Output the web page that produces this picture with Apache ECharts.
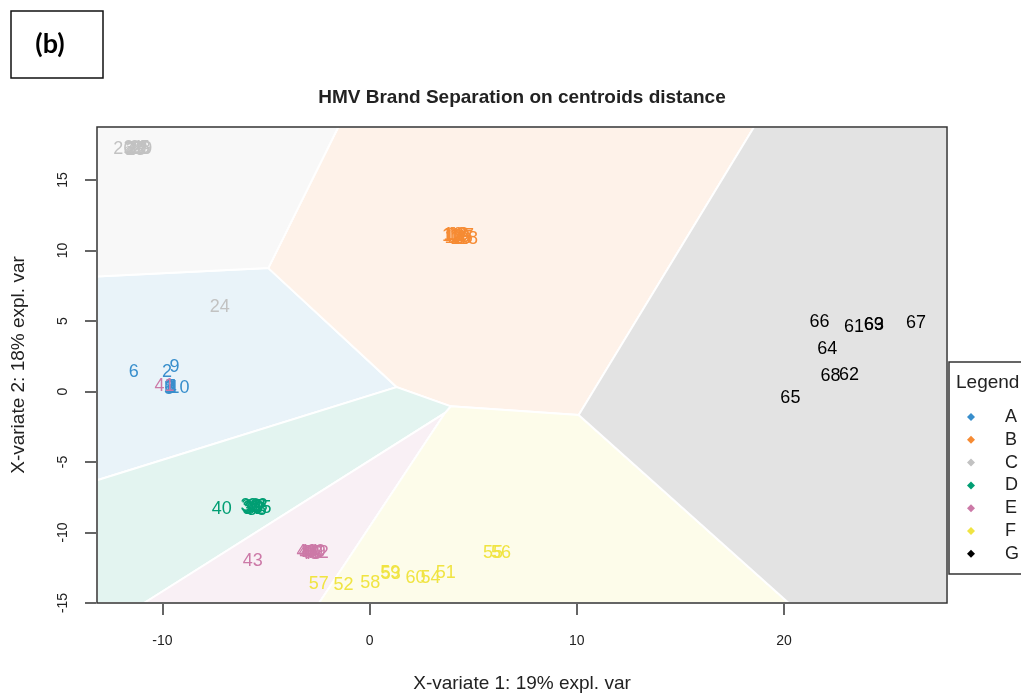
<!DOCTYPE html>
<html>
<head>
<meta charset="utf-8">
<script src="https://cdn.jsdelivr.net/npm/echarts@6/dist/echarts.min.js"></script>
<style>
  html, body { margin: 0; padding: 0; background: #ffffff; }
  #chart { width: 1021px; height: 694px; }
</style>
</head>
<body>
<div id="chart"></div>
<script>
// Group names and colours (mixOmics palette)
const groups = ['A', 'B', 'C', 'D', 'E', 'F', 'G'];
const groupColors = ['#388ECC', '#F68B33', '#C2C2C2', '#009E73', '#CC79A7', '#F0E442', '#000000'];

// Sample scores on the two X-variates: [x-variate 1, x-variate 2, sample number]
const groupA = [[-9.70, 0.30, 1], [-9.78, 1.38, 2], [-9.62, 0.22, 3], [-9.55, 0.28, 4], [-9.68, 0.20, 5],
                [-11.38, 1.38, 6], [-9.60, 0.32, 7], [-9.66, 0.25, 8], [-9.42, 1.74, 9], [-9.18, 0.25, 10]];
const groupB = [[3.95, 11.05, 11], [4.20, 11.10, 12], [4.35, 10.95, 13], [4.10, 10.90, 14], [4.50, 10.85, 15],
                [4.30, 11.08, 16], [4.55, 11.00, 17], [4.75, 10.78, 18], [4.05, 11.10, 19], [4.40, 10.80, 20]];
const groupC = [[-11.40, 17.25, 21], [-11.20, 17.20, 22], [-11.30, 17.15, 23], [-7.24, 5.99, 24], [-11.10, 17.25, 25],
                [-11.89, 17.20, 26], [-11.35, 17.20, 27], [-11.05, 17.18, 28], [-10.97, 17.22, 29], [-11.25, 17.22, 30]];
const groupD = [[-5.70, -8.20, 31], [-5.55, -8.30, 32], [-5.40, -8.15, 33], [-5.65, -8.35, 34], [-5.22, -8.25, 35],
                [-5.75, -8.10, 36], [-5.50, -8.20, 37], [-5.45, -8.40, 38], [-5.60, -8.28, 39], [-7.14, -8.33, 40]];
const groupE = [[-9.90, 0.39, 41], [-2.45, -11.45, 42], [-5.64, -12.00, 43], [-2.95, -11.40, 44], [-2.80, -11.50, 45],
                [-3.05, -11.42, 46], [-2.70, -11.48, 47], [-2.90, -11.55, 48], [-2.60, -11.40, 49], [-2.75, -11.45, 50]];
const groupF = [[3.67, -12.85, 51], [-1.26, -13.72, 52], [1.02, -12.92, 53], [2.94, -13.20, 54], [5.95, -11.48, 55],
                [6.34, -11.48, 56], [-2.46, -13.67, 57], [0.03, -13.60, 58], [1.00, -12.89, 59], [2.22, -13.25, 60]];
const groupG = [[23.38, 4.55, 61], [23.14, 1.17, 62], [24.35, 4.72, 63], [22.09, 2.99, 64], [20.31, -0.48, 65],
                [21.72, 4.95, 66], [26.37, 4.88, 67], [22.25, 1.10, 68], [24.33, 4.70, 69]];
const groupData = [groupA, groupB, groupC, groupD, groupE, groupF, groupG];

// Axis ranges and tick labels
const xRange = [-13.16, 27.87];
const yRange = [-15.0, 18.76];
const xTicks = [-10, 0, 10, 20];
const yTicks = [-15, -10, -5, 0, 5, 10, 15];

const FONT = 'Liberation Sans, Arial, sans-serif';

// Group centroids
const centroids = groupData.map(pts => {
  const n = pts.length;
  return [pts.reduce((s, p) => s + p[0], 0) / n, pts.reduce((s, p) => s + p[1], 0) / n];
});

// Nearest-centroid regions: clip the plotting rectangle by the bisector half-planes
function clipHalfPlane(poly, a, b, c) { // keep a*x + b*y <= c
  const out = [];
  for (let k = 0; k < poly.length; k++) {
    const p = poly[k], q = poly[(k + 1) % poly.length];
    const fp = a * p[0] + b * p[1] - c, fq = a * q[0] + b * q[1] - c;
    if (fp <= 0) out.push(p);
    if ((fp < 0 && fq > 0) || (fp > 0 && fq < 0)) {
      const t = fp / (fp - fq);
      out.push([p[0] + t * (q[0] - p[0]), p[1] + t * (q[1] - p[1])]);
    }
  }
  return out;
}
const regions = centroids.map((ci, i) => {
  let poly = [[xRange[0], yRange[0]], [xRange[1], yRange[0]], [xRange[1], yRange[1]], [xRange[0], yRange[1]]];
  centroids.forEach((cj, j) => {
    if (i === j) return;
    const a = 2 * (cj[0] - ci[0]), b = 2 * (cj[1] - ci[1]);
    const c = cj[0] * cj[0] + cj[1] * cj[1] - ci[0] * ci[0] - ci[1] * ci[1];
    poly = clipHalfPlane(poly, a, b, c);
  });
  return poly;
});

function tint(hex, alpha) {
  const r = parseInt(hex.slice(1, 3), 16), g = parseInt(hex.slice(3, 5), 16), b = parseInt(hex.slice(5, 7), 16);
  const mix = v => Math.round(255 - alpha * (255 - v));
  return 'rgb(' + mix(r) + ',' + mix(g) + ',' + mix(b) + ')';
}

const GRID = { left: 97, top: 127, width: 850, height: 476 };

const chart = echarts.init(document.getElementById('chart'), null, { renderer: 'canvas' });

const series = [{
  type: 'custom',
  name: 'background',
  z: 1,
  silent: true,
  data: centroids.map((c, i) => [c[0], c[1], i]),
  renderItem: function (params, api) {
    const i = params.dataIndex;
    const pts = regions[i].map(p => api.coord(p));
    return {
      type: 'polygon',
      shape: { points: pts },
      style: { fill: tint(groupColors[i], 0.11), stroke: '#ffffff', lineWidth: 2 }
    };
  }
}];

groups.forEach((g, i) => {
  series.push({
    type: 'scatter',
    name: g,
    z: 5,
    symbol: 'diamond',
    symbolSize: 0.01,
    itemStyle: { color: groupColors[i], opacity: 1 },
    emphasis: { disabled: true },
    label: {
      show: true,
      position: 'inside',
      formatter: p => String(p.value[2]),
      color: groupColors[i],
      opacity: 1,
      fontFamily: FONT,
      fontSize: 18
    },
    data: groupData[i]
  });
});

const axisLineStyle = { color: '#333', width: 1.5 };

chart.setOption({
  animation: false,
  backgroundColor: '#ffffff',
  grid: Object.assign({ outerBoundsMode: 'none', containLabel: false }, GRID),
  xAxis: {
    type: 'value',
    min: xRange[0],
    max: xRange[1],
    name: 'X-variate 1: 19% expl. var',
    nameLocation: 'middle',
    nameGap: 71,
    nameTextStyle: { fontFamily: FONT, fontSize: 19, color: '#222' },
    axisLine: { show: true, onZero: false, lineStyle: axisLineStyle },
    splitLine: { show: false },
    axisTick: { show: true, inside: false, length: 12, customValues: xTicks, lineStyle: axisLineStyle },
    axisLabel: { customValues: xTicks, margin: 31, fontFamily: FONT, fontSize: 14, color: '#222' }
  },
  yAxis: {
    type: 'value',
    min: yRange[0],
    max: yRange[1],
    name: 'X-variate 2: 18% expl. var',
    nameLocation: 'middle',
    nameGap: 69,
    nameRotate: 90,
    nameTextStyle: { fontFamily: FONT, fontSize: 19, color: '#222' },
    axisLine: { show: true, onZero: false, lineStyle: axisLineStyle },
    splitLine: { show: false },
    axisTick: { show: true, inside: false, length: 12, customValues: yTicks, lineStyle: axisLineStyle },
    axisLabel: { customValues: yTicks, rotate: 90, margin: 27, fontFamily: FONT, fontSize: 14, color: '#222' }
  },
  legend: {
    orient: 'vertical',
    left: 962,
    top: 402,
    data: groups,
    icon: 'diamond',
    itemWidth: 8,
    itemHeight: 8,
    itemGap: 2.8,
    selectedMode: false,
    textStyle: { fontFamily: FONT, fontSize: 18, color: '#222', lineHeight: 20, padding: [0, 0, 0, 25] }
  },
  graphic: [
    { type: 'rect', z: 50, silent: true,
      shape: { x: GRID.left, y: GRID.top, width: GRID.width, height: GRID.height },
      style: { fill: 'none', stroke: '#333', lineWidth: 1.5 } },
    { type: 'rect', z: 0, silent: true,
      shape: { x: 949, y: 362, width: 120, height: 212 },
      style: { fill: '#ffffff', stroke: '#333', lineWidth: 1.5 } },
    { type: 'text', z: 60, left: 956, top: 373,
      style: { text: 'Legend', fontFamily: FONT, fontSize: 19, fill: '#222' } },
    { type: 'text', z: 60, x: 522, y: 98,
      style: { text: 'HMV Brand Separation on centroids distance', fontFamily: FONT, fontSize: 19,
               fontWeight: 'bold', fill: '#222', align: 'center', verticalAlign: 'middle' } },
    { type: 'rect', z: 60, silent: true,
      shape: { x: 11, y: 11, width: 92, height: 67 },
      style: { fill: 'none', stroke: '#111', lineWidth: 1.5 } },
    { type: 'text', z: 60, x: 50, y: 44,
      style: { text: '(b)', fontFamily: 'Lato, Liberation Sans, sans-serif', fontSize: 27,
               fontWeight: 'bold', fill: '#000', align: 'center', verticalAlign: 'middle' } }
  ],
  series: series
});
</script>
</body>
</html>
